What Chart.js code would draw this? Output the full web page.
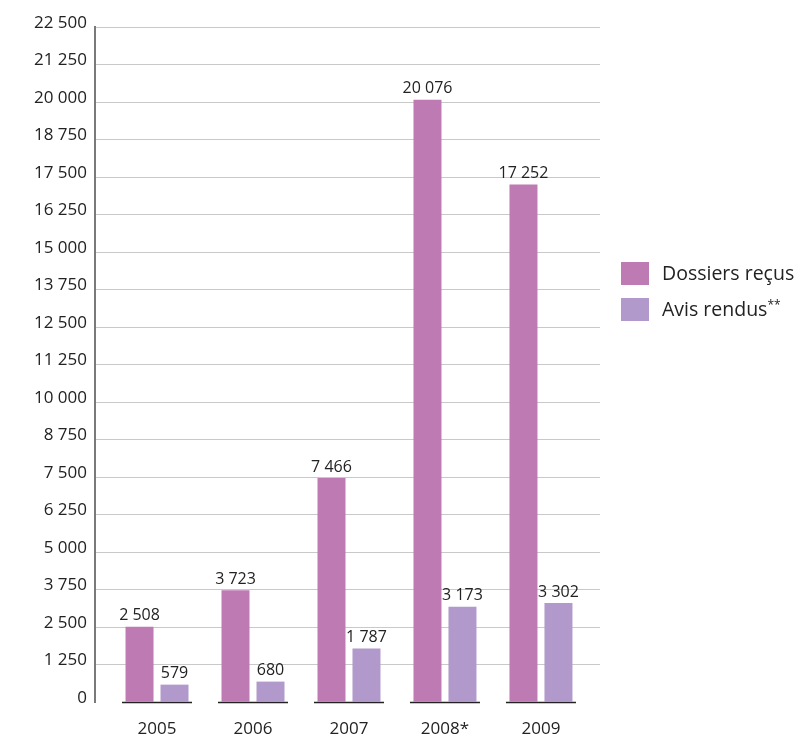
<!DOCTYPE html>
<html lang="fr">
<head>
<meta charset="utf-8">
<title>Dossiers reçus et avis rendus</title>
<script src="https://cdn.jsdelivr.net/npm/chart.js@4.4.1/dist/chart.umd.min.js"></script>
<style>
    html, body { margin: 0; padding: 0; background: #ffffff; }
    #wrap { position: relative; width: 807px; height: 738px; }
    .legend { position: absolute; left: 621px; font-family: "Open Sans", sans-serif; font-size: 19.5px; color: #222; }
    .legend span.box { position: absolute; left: 0; top: 0; width: 28px; height: 23px; }
    .legend span.txt { position: absolute; left: 41px; top: -3px; white-space: nowrap; }
</style>
</head>
<body>
<div id="wrap">
    <canvas id="chart"></canvas>
    <div class="legend" style="top:262px"><span class="box" style="background:#bd7ab3"></span><span class="txt">Dossiers reçus</span></div>
    <div class="legend" style="top:298px"><span class="box" style="background:#b199cb"></span><span class="txt">Avis rendus<sup style="font-size:12px">**</sup></span></div>
</div>
<script>
// Données
const years = ['2005', '2006', '2007', '2008*', '2009'];
const dossiersRecus = [2508, 3723, 7466, 20076, 17252];
const avisRendus = [579, 680, 1787, 3173, 3302];
const yTicks = [0, 1250, 2500, 3750, 5000, 6250, 7500, 8750, 10000, 11250, 12500, 13750, 15000, 16250, 17500, 18750, 20000, 21250, 22500];

const fontFamily = '"Open Sans", sans-serif';
const textColor = '#222222';

// format "20 076"
function fmt(v) {
    return String(v).replace(/\B(?=(\d{3})+(?!\d))/g, ' ');
}

/**
 * Valeurs au-dessus des barres
 */
const valueLabels = {
    id: 'valueLabels',
    afterDatasetsDraw(chart) {
        const ctx = chart.ctx;
        ctx.save();
        ctx.font = '16px ' + fontFamily;
        ctx.fillStyle = textColor;
        ctx.textAlign = 'center';
        ctx.textBaseline = 'bottom';
        chart.data.datasets.forEach((ds, i) => {
            chart.getDatasetMeta(i).data.forEach((bar, j) => {
                ctx.fillText(fmt(ds.data[j].y), bar.x, bar.y - 3);
            });
        });
        ctx.restore();
    }
};

/**
 * Trait de base sous chaque groupe
 */
const groupBase = {
    id: 'groupBase',
    afterDatasetsDraw(chart) {
        const ctx = chart.ctx;
        const x = chart.scales.x;
        const y0 = chart.scales.y.getPixelForValue(0);
        ctx.save();
        ctx.strokeStyle = '#222222';
        ctx.lineWidth = 1.5;
        years.forEach((_, i) => {
            const cx = x.getPixelForValue(i);
            ctx.beginPath();
            ctx.moveTo(cx - 35, y0 + 0.5);
            ctx.lineTo(cx + 35, y0 + 0.5);
            ctx.stroke();
        });
        ctx.restore();
    }
};

new Chart(document.getElementById('chart').getContext('2d'), {
    type: 'bar',
    data: {
        datasets: [{
            label: 'Dossiers reçus',
            data: dossiersRecus.map((v, i) => ({ x: i, y: v })),
            backgroundColor: '#bd7ab3',
            borderWidth: 0,
            categoryPercentage: 0.729,
            barPercentage: 0.8
        }, {
            label: 'Avis rendus **',
            data: avisRendus.map((v, i) => ({ x: i, y: v })),
            backgroundColor: '#b199cb',
            borderWidth: 0,
            categoryPercentage: 0.729,
            barPercentage: 0.8
        }]
    },
    options: {
        responsive: true,
        maintainAspectRatio: false,
        animation: false,
        layout: { padding: { top: 27, right: 207, left: 0, bottom: 0 } },
        plugins: {
            legend: { display: false },
            tooltip: { enabled: false }
        },
        scales: {
            x: {
                type: 'linear',
                offset: false,
                min: -0.646,
                max: 4.615,
                grid: { display: false, offset: false },
                border: { display: false },
                afterFit: (scale) => { scale.height = 36; },
                ticks: {
                    stepSize: 1,
                    includeBounds: false,
                    autoSkip: false,
                    maxRotation: 0,
                    padding: 9,
                    color: textColor,
                    font: { family: fontFamily, size: 17 },
                    callback: (value) => years[value] ?? ''
                }
            },
            y: {
                min: 0,
                max: 22500,
                afterFit: (scale) => { scale.width = 95; },
                afterBuildTicks: (scale) => { scale.ticks = yTicks.map(v => ({ value: v })); },
                grid: {
                    drawTicks: false,
                    color: (c) => c.tick && c.tick.value === 0 ? 'rgba(0,0,0,0)' : '#c9c9c9',
                    lineWidth: 1
                },
                border: { display: true, color: '#7a7a7a', width: 2 },
                ticks: {
                    padding: 8,
                    labelOffset: -4,
                    color: textColor,
                    font: { family: fontFamily, size: 17 },
                    callback: (value) => fmt(value)
                }
            }
        }
    },
    plugins: [valueLabels, groupBase]
});
</script>
</body>
</html>
